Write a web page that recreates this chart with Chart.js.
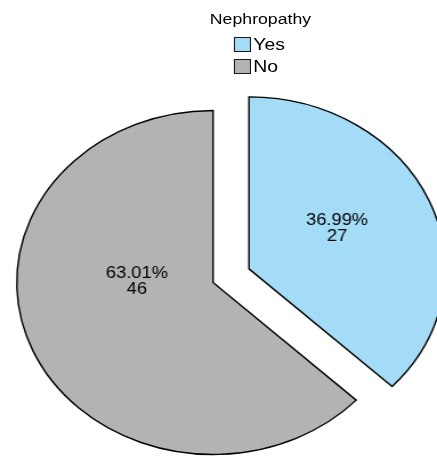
<!DOCTYPE html>
<html><head><meta charset="utf-8">
<script src="https://cdn.jsdelivr.net/npm/chart.js@4/dist/chart.umd.min.js"></script>
<style>
html,body{margin:0;padding:0;background:#fff;overflow:hidden;width:437px;height:457px;}
#wrap{position:absolute;left:0;top:0;width:383px;height:457px;transform:scaleX(1.141);transform-origin:0 0;}
#c{position:absolute;left:0;top:0;}
.lg{position:absolute;font-family:"Liberation Sans",Arial,sans-serif;color:#000;white-space:nowrap;line-height:1;}
.box{position:absolute;box-sizing:border-box;border:1.5px solid #1a1a1a;}
</style></head><body>
<div id="wrap"><canvas id="c" width="383" height="457" style="width:383px;height:457px"></canvas><div id="legend"></div></div>
<script>
const legendTitle = "Nephropathy";
const categories = ["Yes", "No"];
const counts = [27, 46];
const sliceColors = ["#A4DBF7", "#B3B3B3"];

const total = counts.reduce((a, b) => a + b, 0);
const percentLabels = counts.map(v => (v / total * 100).toFixed(2) + "%");

// HTML legend built from the arrays
const lg = document.getElementById('legend');
const t = document.createElement('div');
t.className = 'lg';
t.textContent = legendTitle;
t.style.fontSize = '15.5px';
t.style.left = '228.3px';
t.style.top = '10.9px';
t.style.transform = 'translateX(-50%)';
lg.appendChild(t);
categories.forEach((c, i) => {
  const rowY = 37 + i * 21.6;
  const b = document.createElement('div');
  b.className = 'box';
  b.style.left = '205.3px';
  b.style.top = rowY + 'px';
  b.style.width = '15px';
  b.style.height = '15px';
  b.style.background = sliceColors[i];
  lg.appendChild(b);
  const s = document.createElement('div');
  s.className = 'lg';
  s.textContent = c;
  s.style.fontSize = '17px';
  s.style.left = '222px';
  s.style.top = (rowY - 0.9) + 'px';
  lg.appendChild(s);
});

const explodePlugin = {
  id: 'explode',
  afterDatasetUpdate(chart, args, opts) {
    const meta = args.meta;
    (opts.indices || []).forEach(i => {
      const el = meta.data[i];
      if (!el) return;
      const mid = (el.startAngle + el.endAngle) / 2;
      el.x += Math.cos(mid) * opts.distance;
      el.y += Math.sin(mid) * opts.distance;
    });
  }
};

const sliceLabelPlugin = {
  id: 'sliceLabels',
  afterDatasetsDraw(chart, args, opts) {
    const ctx = chart.ctx;
    const meta = chart.getDatasetMeta(0);
    ctx.save();
    ctx.font = '16px "Liberation Sans", Arial, sans-serif';
    ctx.fillStyle = '#000';
    ctx.textAlign = 'center';
    ctx.textBaseline = 'middle';
    meta.data.forEach((el, i) => {
      const p = opts.placement[i];
      const a = (p.angle - 90) * Math.PI / 180;
      const r = el.outerRadius * p.dist;
      const x = el.x + Math.cos(a) * r;
      const y = el.y + Math.sin(a) * r;
      ctx.fillText(percentLabels[i], x, y - 8);
      ctx.fillText(String(counts[i]), x, y + 8.2);
    });
    ctx.restore();
  }
};

new Chart(document.getElementById('c'), {
  type: 'pie',
  data: {
    labels: categories,
    datasets: [{
      data: counts,
      backgroundColor: sliceColors,
      borderColor: '#000',
      borderWidth: 1.4,
      borderJoinStyle: 'miter',
      radius: 172,
      clip: false
    }]
  },
  options: {
    responsive: false,
    animation: false,
    events: [],
    devicePixelRatio: 1,
    layout: { padding: { left: 0, right: 9.6, top: 110, bottom: 2 } },
    plugins: {
      legend: { display: false },
      tooltip: { enabled: false },
      explode: { indices: [0], distance: 34.3 },
      sliceLabels: { placement: [ { angle: 62.6, dist: 0.506 }, { angle: 271, dist: 0.388 } ] }
    }
  },
  plugins: [explodePlugin, sliceLabelPlugin]
});
</script>
</body></html>
